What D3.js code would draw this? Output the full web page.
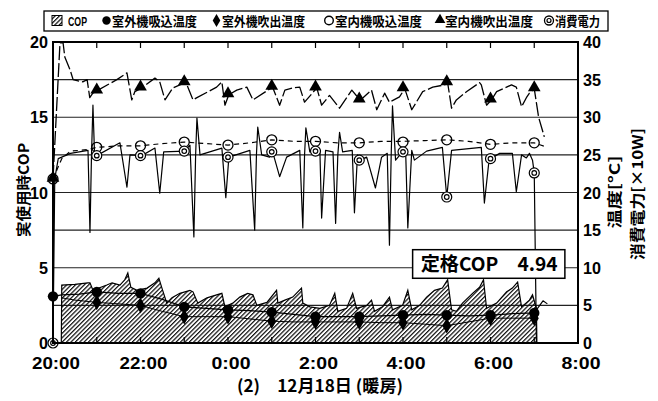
<!DOCTYPE html>
<html>
<head>
<meta charset="utf-8">
<script src="https://cdn.jsdelivr.net/npm/d3@7/dist/d3.min.js"></script>
<style>
  body { margin: 0; background: #fff; }
</style>
</head>
<body>
<svg id="chart" width="658" height="401"></svg>
<script>
// hours after 20:00
var markHours = [0, 1, 2, 3, 4, 5, 6, 7, 8, 9, 10, 11];
var xTickHours = [0, 2, 4, 6, 8, 10, 12];
var xTickLabels = ['20:00', '22:00', '0:00', '2:00', '4:00', '6:00', '8:00'];
var copTicks = [0, 5, 10, 15, 20];
var tempTicks = [0, 5, 10, 15, 20, 25, 30, 35, 40];

var legendNames = ['COP', '室外機吸込温度', '室外機吹出温度', '室内機吸込温度', '室内機吹出温度', '消費電力'];
var ratedCop = 4.94;

// hourly marker values (°C, power in x10W)
var outdoorInMarks  = [6.2, 6.8, 6.6, 4.8, 4.4, 4.1, 3.5, 3.5, 3.7, 3.7, 3.7, 4.0];
var outdoorOutMarks = [null, 5.4, 5.0, 3.5, 3.5, 2.9, 2.8, 2.8, 2.7, 2.3, 3.3, 3.3];
var indoorInMarks   = [21.8, 26.0, 26.2, 26.7, 26.3, 27.0, 26.8, 26.6, 26.7, 27.0, 26.4, 26.6];
var indoorOutMarks  = [21.8, 33.5, 33.9, 34.6, 33.0, 34.0, 33.9, 32.3, 33.8, 34.6, 32.3, 33.8];
var powerMarks      = [0, 24.9, 24.9, 25.5, 24.7, 25.4, 25.5, 24.3, 25.4, 19.4, 24.5, 22.6];

// [hour, COP]
var copLine = [[0,0],[0.19,0],[0.2,3.85],[0.5,3.9],[0.8,4.0],[0.845,4.0],[0.913,3.5],[1.23,3.85],[1.35,4.0],
  [1.53,3.85],[1.64,4.2],[1.71,4.65],[1.78,3.7],[1.92,3.5],[2.15,3.65],[2.33,4.0],[2.42,4.3],[2.49,3.65],
  [2.60,2.65],[2.72,3.0],[2.90,3.3],[3.13,3.5],[3.20,3.4],[3.31,2.65],[3.52,3.0],[3.74,3.2],[3.86,3.3],
  [3.93,2.4],[4.11,2.65],[4.27,3.05],[4.45,3.3],[4.57,3.2],[4.66,2.5],[4.89,2.7],[5.11,3.5],[5.14,2.65],
  [5.30,2.85],[5.48,3.05],[5.68,3.65],[5.71,2.65],[5.87,2.4],[6.10,2.3],[6.32,2.5],[6.44,3.3],[6.51,2.1],
  [6.71,2.3],[6.85,3.3],[6.94,2.3],[7.17,2.5],[7.28,2.85],[7.35,2.1],[7.53,2.4],[7.69,3.05],[7.76,2.2],
  [7.99,2.5],[8.11,3.5],[8.20,2.2],[8.38,2.5],[8.54,3.05],[8.72,3.5],[8.90,3.65],[9.02,4.2],[9.11,2.2],
  [9.22,2.1],[9.36,2.65],[9.59,3.3],[9.75,3.7],[9.84,4.2],[9.91,2.3],[10.14,2.65],[10.37,3.4],[10.50,3.65],
  [10.62,4.05],[10.71,2.4],[10.89,2.85],[10.96,3.2],[11.05,2.3],[11.06,0]];

// [hour, °C]
var indoorOutLine = [[0,21.8],[0.16,39.9],[0.23,39.9],[0.27,38.0],[0.39,36.3],[0.46,35.0],[0.68,34.7],
  [0.78,35.0],[0.84,32.6],[0.91,33.2],[1.0,33.5],[1.46,35.0],[1.69,35.9],[1.80,32.3],[1.87,33.4],[2.03,33.9],
  [2.33,35.2],[2.44,34.7],[2.56,32.3],[2.74,33.9],[2.90,34.3],[3.04,34.6],[3.20,32.3],[3.29,32.6],[3.74,34.0],
  [3.86,34.7],[3.93,31.6],[4.02,33.0],[4.20,33.6],[4.43,34.0],[4.57,32.3],[5.02,34.0],[5.18,31.6],[5.30,33.6],
  [5.48,33.9],[5.64,34.0],[5.75,32.0],[6.03,33.9],[6.14,31.6],[6.32,32.9],[6.55,31.2],[6.83,33.6],[6.96,32.7],
  [7.03,32.3],[7.28,33.6],[7.40,31.0],[7.58,33.2],[7.69,32.0],[7.92,32.7],[8.04,33.8],[8.20,31.0],[8.45,33.4],
  [8.68,34.0],[8.95,34.3],[9.02,34.6],[9.11,31.2],[9.22,32.3],[9.45,33.4],[9.75,34.6],[9.79,34.3],[9.91,31.6],
  [10.02,32.3],[10.14,33.4],[10.48,34.3],[10.59,34.0],[10.71,31.4],[10.82,32.6],[10.89,33.2],[11.0,33.8],
  [11.10,30.0],[11.23,27.4]];

var indoorInLine = [[0,21.8],[0.2,24.5],[0.4,25.5],[0.8,25.7],[1.0,26.0],[1.5,26.2],[2.0,26.2],[2.5,26.5],
  [3.0,26.7],[3.5,26.5],[4.0,26.3],[4.5,26.6],[5.0,27.0],[5.5,26.8],[6.0,26.8],[6.5,26.6],[7.0,26.6],
  [7.5,26.8],[8.0,26.8],[8.5,26.9],[9.0,27.0],[9.5,26.8],[10.0,26.4],[10.5,26.6],[11.0,26.6],[11.3,26.0]];

// [hour, x10W]
var powerLine = [[0,0],[0.04,21.8],[0.12,24.5],[0.4,25.2],[0.8,25.6],[0.845,14.7],[0.88,25],[0.913,31.6],
  [0.95,25],[1.0,24.9],[1.53,26.6],[1.69,20.7],[1.76,25.0],[2.03,24.9],[2.33,25.9],[2.44,19.9],[2.53,25.4],
  [3.01,25.5],[3.13,26.3],[3.22,14.1],[3.26,25],[3.29,29.9],[3.36,25.0],[3.86,25.9],[3.95,19.3],[4.02,24.7],
  [4.50,25.6],[4.61,15.0],[4.65,25],[4.68,28.7],[4.77,25.0],[4.95,24.7],[5.02,25.4],[5.18,22.1],[5.34,24.7],
  [5.64,25.6],[5.71,15.3],[5.75,25],[5.78,28.6],[5.87,25.4],[6.03,25.5],[6.10,25.6],[6.14,16.6],[6.23,25.6],
  [6.40,25.4],[6.46,15.9],[6.51,25],[6.55,28.0],[6.62,25.4],[6.84,25.6],[6.89,17.3],[6.96,25.0],[7.01,24.3],
  [7.17,24.7],[7.37,20.6],[7.51,24.7],[7.64,25.2],[7.69,13.0],[7.73,25],[7.76,31.5],[7.83,24.3],[7.99,25.4],
  [8.06,25.6],[8.11,15.3],[8.20,25.6],[8.26,24.3],[8.54,25.5],[8.90,26.0],[9.0,19.4],[9.11,25.6],[9.45,25.8],
  [9.79,26.0],[9.86,18.6],[9.98,25.0],[10.0,24.5],[10.21,25.2],[10.50,25.2],[10.59,20.1],[10.71,25.0],
  [10.82,24.6],[10.89,25.2],[10.96,24.3],[11.0,22.6],[11.05,0]];

var outdoorInLine = [[0,6.2],[0.2,6.4],[0.6,6.5],[1,6.8],[1.5,6.6],[2,6.6],[2.5,5.8],[3,4.8],[3.5,4.6],
  [4,4.4],[4.5,4.3],[5,4.1],[5.5,3.8],[6,3.5],[6.5,3.5],[7,3.5],[7.5,3.6],[8,3.7],[8.5,3.8],[9,3.7],
  [9.5,3.6],[10,3.7],[10.5,3.9],[11,4.0],[11.1,4.8],[11.2,5.6],[11.3,5.2]];

var outdoorOutLine = [[0.2,6.0],[0.5,5.7],[1,5.4],[1.5,5.2],[2,5.0],[2.5,4.2],[3,3.5],[3.5,3.5],[4,3.5],
  [4.5,3.2],[5,2.9],[5.5,2.8],[6,2.8],[6.5,2.8],[7,2.8],[7.5,2.7],[8,2.7],[8.5,2.5],[9,2.3],[9.5,2.8],
  [10,3.3],[10.5,3.3],[11,3.3]];

var fontNum = "'Liberation Sans',Arial,sans-serif",
    fontJa = "'Noto Sans CJK JP','Noto Sans',sans-serif";

var svg = d3.select('#chart'),
    plotL = 53, plotR = 578, plotT = 42, plotB = 343;

var x = d3.scaleLinear().domain([0, 12]).range([plotL, plotR]),
    yL = d3.scaleLinear().domain([0, 20]).range([plotB, plotT]),
    yR = d3.scaleLinear().domain([0, 40]).range([plotB, plotT]);

// condensed look for the numbers: squeeze each label to a fixed width per glyph
function numWidth(s){
    s = String(s);
    return s.replace(/[^0-9]/g, '').length * 9 + (s.indexOf(':') >= 0 ? 12 : 0);
}

// hatch pattern for the COP area
var defs = svg.append('defs');
defs.append('pattern')
    .attr('id', 'hatch')
    .attr('patternUnits', 'userSpaceOnUse')
    .attr('width', 3.1).attr('height', 3.1)
    .attr('patternTransform', 'rotate(45)')
  .append('line')
    .attr('x1', 0.6).attr('y1', 0).attr('x2', 0.6).attr('y2', 3.1)
    .attr('stroke', '#111').attr('stroke-width', 1.25);

// horizontal grid every 5 deg
svg.append('g').selectAll('line')
    .data(tempTicks.filter(function(t){ return t > 0 && t < 40; }))
    .enter().append('line')
    .attr('x1', plotL).attr('x2', plotR)
    .attr('y1', yR).attr('y2', yR)
    .attr('stroke', '#222').attr('stroke-width', 1.1);

// COP area
svg.append('path')
    .datum(copLine)
    .attr('fill', 'url(#hatch)')
    .attr('d', d3.area().x(function(d){ return x(d[0]); }).y0(plotB).y1(function(d){ return yL(d[1]); }));
svg.append('path')
    .datum(copLine)
    .attr('fill', 'none').attr('stroke', '#000').attr('stroke-width', 1.2)
    .attr('d', d3.line().x(function(d){ return x(d[0]); }).y(function(d){ return yL(d[1]); }));

var tLine = d3.line().x(function(d){ return x(d[0]); }).y(function(d){ return yR(d[1]); });

function drawLine(data, width, dash){
    svg.append('path')
        .datum(data)
        .attr('fill', 'none')
        .attr('stroke', '#000')
        .attr('stroke-width', width)
        .attr('stroke-linejoin', 'round')
        .attr('stroke-dasharray', dash || null)
        .attr('d', tLine);
}

drawLine(outdoorOutLine, 1);
drawLine(outdoorInLine, 1.2);
drawLine(indoorInLine, 1.2, '5,4');
drawLine(powerLine, 1.2);
drawLine(indoorOutLine, 1.3, '14,3');

// markers
function marks(values){
    return markHours.map(function(h, i){ return [h, values[i]]; })
        .filter(function(d){ return d[1] !== null; });
}

svg.append('g').selectAll('path')
    .data(marks(indoorOutMarks)).enter().append('path')
    .attr('transform', function(d){ return 'translate(' + x(d[0]) + ',' + (yR(d[1]) - 1) + ')'; })
    .attr('d', d3.symbol().type(d3.symbolTriangle).size(70))
    .attr('fill', '#000');

svg.append('g').selectAll('circle')
    .data(marks(indoorInMarks)).enter().append('circle')
    .attr('cx', function(d){ return x(d[0]); })
    .attr('cy', function(d){ return yR(d[1]); })
    .attr('r', 5).attr('fill', 'none').attr('stroke', '#000').attr('stroke-width', 1.3);

var pw = svg.append('g').selectAll('g')
    .data(marks(powerMarks)).enter().append('g')
    .attr('transform', function(d){ return 'translate(' + x(d[0]) + ',' + yR(d[1]) + ')'; });
pw.append('circle').attr('r', 5).attr('fill', '#fff').attr('stroke', '#000').attr('stroke-width', 1.2);
pw.append('circle').attr('r', 2.3).attr('fill', 'none').attr('stroke', '#000').attr('stroke-width', 1.2);

svg.append('g').selectAll('circle')
    .data(marks(outdoorInMarks)).enter().append('circle')
    .attr('cx', function(d){ return x(d[0]); })
    .attr('cy', function(d){ return yR(d[1]); })
    .attr('r', 5.2).attr('fill', '#000');

svg.append('g').selectAll('path')
    .data(marks(outdoorOutMarks)).enter().append('path')
    .attr('transform', function(d){ return 'translate(' + x(d[0]) + ',' + yR(d[1]) + ')'; })
    .attr('d', d3.symbol().type(d3.symbolDiamond).size(70))
    .attr('fill', '#000');

// frame and hour ticks
svg.append('rect')
    .attr('x', plotL).attr('y', plotT)
    .attr('width', plotR - plotL).attr('height', plotB - plotT)
    .attr('fill', 'none').attr('stroke', '#000').attr('stroke-width', 2);

var hourTicks = d3.range(1, 12);
svg.append('g').selectAll('line')
    .data(hourTicks).enter().append('line')
    .attr('x1', x).attr('x2', x)
    .attr('y1', plotT).attr('y2', plotT + 6)
    .attr('stroke', '#000').attr('stroke-width', 1.2);
svg.append('g').selectAll('line')
    .data(hourTicks).enter().append('line')
    .attr('x1', x).attr('x2', x)
    .attr('y1', plotB).attr('y2', plotB - 6)
    .attr('stroke', '#000').attr('stroke-width', 1.2);

// tick labels
svg.append('g').selectAll('text')
    .data(copTicks).enter().append('text')
    .attr('x', plotL - 5).attr('y', function(d){ return yL(d) + 6; })
    .attr('text-anchor', 'end')
    .attr('textLength', numWidth).attr('lengthAdjust', 'spacingAndGlyphs')
    .style('font', 'bold 17px ' + fontNum)
    .text(function(d){ return d; });

svg.append('g').selectAll('text')
    .data(tempTicks).enter().append('text')
    .attr('x', plotR + 5).attr('y', function(d){ return yR(d) + 6; })
    .attr('textLength', numWidth).attr('lengthAdjust', 'spacingAndGlyphs')
    .style('font', 'bold 17px ' + fontNum)
    .text(function(d){ return d; });

svg.append('g').selectAll('text')
    .data(xTickHours).enter().append('text')
    .attr('x', function(d, i){ return x(d) + 3 - numWidth(xTickLabels[i]) / 2; }).attr('y', 369)
    .attr('textLength', function(d, i){ return numWidth(xTickLabels[i]); })
    .attr('lengthAdjust', 'spacingAndGlyphs')
    .style('font', 'bold 17px ' + fontNum)
    .text(function(d, i){ return xTickLabels[i]; });

// axis titles
function vText(cx, cy, str, len, size){
    svg.append('text')
        .attr('transform', 'translate(' + cx + ',' + cy + ') rotate(-90)')
        .attr('text-anchor', 'middle')
        .attr('textLength', len).attr('lengthAdjust', 'spacingAndGlyphs')
        .style('font', 'bold ' + size + 'px ' + fontJa)
        .text(str);
}
vText(29, 190, '実使用時COP', 94, 15);
vText(620, 192, '温度[°C]', 73, 15);
vText(643, 194, '消費電力[×10W]', 132, 15);

// rated COP note
var box = svg.append('g');
box.append('rect')
    .attr('x', x(8.22)).attr('y', yL(6.2))
    .attr('width', x(11.7) - x(8.22)).attr('height', yL(4.3) - yL(6.2))
    .attr('fill', '#fff').attr('stroke', '#000').attr('stroke-width', 1.5);
box.append('text')
    .attr('x', x(8.22) + 8).attr('y', yL(4.3) - 7)
    .attr('textLength', 137).attr('lengthAdjust', 'spacingAndGlyphs')
    .style('font', 'bold 19px ' + fontJa)
    .text('定格COP\u3000' + ratedCop.toFixed(2));

// title
svg.append('text')
    .attr('x', 237).attr('y', 392)
    .attr('textLength', 166).attr('lengthAdjust', 'spacingAndGlyphs')
    .style('font', 'bold 17px ' + fontJa)
    .text('(2)\u300012月18日 (暖房)');

// legend
var lg = svg.append('g');
lg.append('rect').attr('x', 44).attr('y', 11).attr('width', 564).attr('height', 20)
    .attr('fill', '#fff').attr('stroke', '#000').attr('stroke-width', 1.3);
lg.append('rect').attr('x', 52).attr('y', 15.5).attr('width', 10).attr('height', 10)
    .attr('fill', 'url(#hatch)').attr('stroke', '#000').attr('stroke-width', 1);
lg.append('circle').attr('cx', 106.5).attr('cy', 20.5).attr('r', 4.2).attr('fill', '#000');
lg.append('path').attr('transform', 'translate(216.5,20.5)')
    .attr('d', d3.symbol().type(d3.symbolDiamond).size(50)).attr('fill', '#000');
lg.append('circle').attr('cx', 329).attr('cy', 20.5).attr('r', 4.3)
    .attr('fill', 'none').attr('stroke', '#000').attr('stroke-width', 1.4);
lg.append('path').attr('transform', 'translate(440,20)')
    .attr('d', d3.symbol().type(d3.symbolTriangle).size(50)).attr('fill', '#000');
lg.append('circle').attr('cx', 549).attr('cy', 20.5).attr('r', 4.5)
    .attr('fill', 'none').attr('stroke', '#000').attr('stroke-width', 1.3);
lg.append('circle').attr('cx', 549).attr('cy', 20.5).attr('r', 2)
    .attr('fill', 'none').attr('stroke', '#000').attr('stroke-width', 1.2);

var legendX = [68, 112, 222, 335, 445, 555],
    legendW = [19, 85, 83, 87, 88, 45];
lg.selectAll('text.item')
    .data(legendNames).enter().append('text')
    .attr('class', 'item')
    .attr('x', function(d, i){ return legendX[i]; })
    .attr('y', 26)
    .attr('textLength', function(d, i){ return legendW[i]; })
    .attr('lengthAdjust', 'spacingAndGlyphs')
    .style('font', function(d, i){ return 'bold 13px ' + (i === 0 ? fontNum : fontJa); })
    .text(function(d){ return d; });
</script>
</body>
</html>
